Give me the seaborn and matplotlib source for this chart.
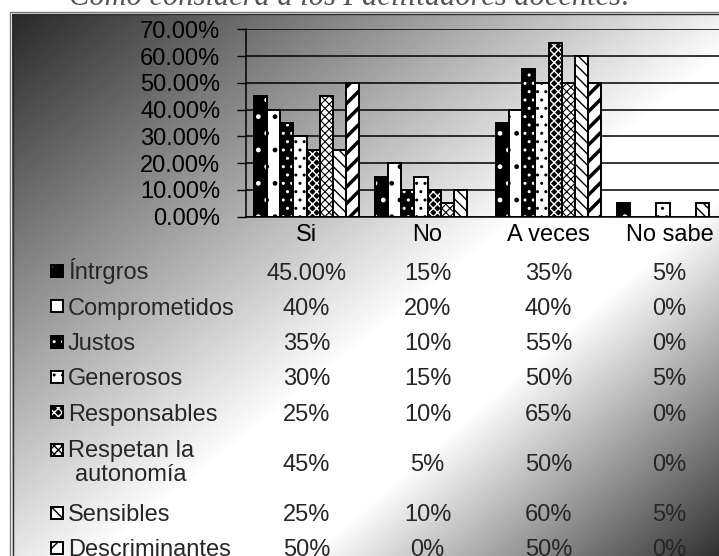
import numpy as np
import pandas as pd
import matplotlib
matplotlib.use("Agg")
import matplotlib.pyplot as plt
import seaborn as sns
from matplotlib.patches import Rectangle
from matplotlib.transforms import blended_transform_factory
from matplotlib.ticker import FuncFormatter

# ---- data ----
title = "Cómo considera a los Facilitadores docentes:"
categories = ["Si", "No", "A veces", "No sabe"]
series = ["Íntrgros", "Comprometidos", "Justos", "Generosos", "Responsables",
          "Respetan la\nautonomía", "Sensibles", "Descriminantes"]
si = [45, 40, 35, 30, 25, 45, 25, 50]
no = [15, 20, 10, 15, 10, 5, 10, 0]
a_veces = [35, 40, 55, 50, 65, 50, 60, 50]
no_sabe = [5, 0, 0, 5, 0, 0, 5, 0]
y_ticks = [0, 10, 20, 30, 40, 50, 60, 70]
two_decimal_cells = {("Íntrgros", "Si")}

# fill colour, hatch colour, hatch pattern, hatch width
styles = [
    ("black", "white", ".", 1.0),
    ("white", "black", ".", 1.0),
    ("black", "white", "..", 1.0),
    ("white", "black", "..", 1.0),
    ("black", "white", "xxxx", 1.0),
    ("white", "black", "xxxx", 0.8),
    ("white", "black", "\\\\\\", 1.0),
    ("white", "black", "//", 2.5),
]

W, H = 719, 556
sns.set_theme(style="white")
plt.rcParams["font.family"] = ["Liberation Sans", "DejaVu Sans"]
plt.rcParams["hatch.linewidth"] = 1.0
FS = 17

fig = plt.figure(figsize=(W / 100, H / 100), dpi=100)
fig.patch.set_facecolor("white")


def fx(px):
    return px / W


def fy(py):
    return 1 - py / H


# ---- framed gradient backdrop ----
bg = fig.add_axes([0, 0, 1, 1], zorder=-10)
yy, xx = np.mgrid[0:H, 0:W] + 0.5
rise = 32 + 0.28 * xx + 0.35 * yy
fall = 728 - (0.5 * xx + 0.575 * yy)
shade = np.clip(np.minimum(rise, fall), 24, 255) / 255
shade[(xx < 12.5) | (yy < 14)] = 1.0
bg.imshow(shade, cmap="gray", vmin=0, vmax=1, extent=(0, W, H, 0),
          aspect="auto", interpolation="bilinear")
bg.set_xlim(0, W)
bg.set_ylim(H, 0)
bg.axis("off")
for off_x, off_y, col in [(9.5, 11.5, "#777777"), (12.5, 14.0, "#2a2a2a")]:
    bg.plot([off_x, off_x, W + 5], [H + 5, off_y, off_y], color=col, lw=1.0,
            solid_capstyle="butt")

# ---- bar chart ----
df = pd.DataFrame({
    "categoria": np.repeat(categories, len(series)),
    "serie": series * len(categories),
    "valor": si + no + a_veces + no_sabe,
})

ax = fig.add_axes([fx(246), fy(216.7), (730 - 246) / W, (216.7 - 29.3) / H])
sns.barplot(data=df, x="categoria", y="valor", hue="serie", order=categories,
            hue_order=series, width=0.86, gap=0, ax=ax, legend=False,
            errorbar=None, saturation=1)

for cont, (fc, hc, hatch, hlw) in zip(ax.containers, styles):
    for p in cont.patches:
        p.set_facecolor(fc)
        p.set_edgecolor(hc)
        p.set_hatch(hatch)
        p.set_linewidth(0)
        if hasattr(p, "set_hatch_linewidth"):
            p.set_hatch_linewidth(hlw)
        if p.get_height() > 0:
            ax.add_patch(Rectangle(p.get_xy(), p.get_width(), p.get_height(),
                                   fill=False, ec="black", lw=1.4,
                                   zorder=p.get_zorder() + 0.1))

ax.set_ylim(0, 70)
ax.set_yticks(y_ticks)
ax.yaxis.set_major_formatter(FuncFormatter(lambda v, _: f"{v:.2f}%"))
ax.set_xlabel("")
ax.set_ylabel("")
ax.tick_params(axis="y", left=True, length=6.5, width=1.0, color="black",
               pad=12, labelsize=FS, direction="out", labelcolor="black")
ax.tick_params(axis="x", bottom=False, length=0, pad=5, labelsize=FS,
               labelcolor="black")
ax.yaxis.grid(True, color="black", lw=1.1)
ax.set_axisbelow(True)
for side in ("top", "right"):
    ax.spines[side].set_visible(False)
for side in ("left", "bottom"):
    ax.spines[side].set_color("black")
    ax.spines[side].set_linewidth(1.1)
ax.patch.set_alpha(0)

# ---- data table under the chart ----
columns = {"Si": si, "No": no, "A veces": a_veces, "No sabe": no_sabe}
trans = blended_transform_factory(ax.transData, fig.transFigure)
row_h, row_h2 = 35.3, 65.0
top = 271 - row_h / 2
for i, (name, (fc, hc, hatch, hlw)) in enumerate(zip(series, styles)):
    h = row_h2 if "\n" in name else row_h
    cy = top + h / 2
    top += h
    if "\n" in name:
        fig.text(fx(68), fy(cy + 1), name, ha="left", va="center",
                 multialignment="center", linespacing=1.12, fontsize=FS)
        my = cy - 12
    else:
        fig.text(fx(68), fy(cy + 8.5), name, ha="left", va="baseline",
                 fontsize=FS)
        my = cy
    key = Rectangle((fx(51), fy(my + 6)), 12 / W, 12 / H,
                    transform=fig.transFigure, facecolor=fc, edgecolor=hc,
                    hatch=hatch, lw=0)
    fig.add_artist(key)
    fig.add_artist(Rectangle((fx(51), fy(my + 6)), 12 / W, 12 / H,
                             transform=fig.transFigure, fill=False,
                             ec="black", lw=1.4))
    for j, cat in enumerate(categories):
        v = columns[cat][i]
        label = f"{v:.2f}%" if (series[i], cat) in two_decimal_cells else f"{v:.0f}%"
        fig.text(j, fy(cy + 8.5), label, transform=trans, ha="center",
                 va="baseline", fontsize=FS)

fig.text(fx(350), fy(5), title, ha="center", va="baseline", fontsize=22,
         style="italic", family=["Liberation Serif"], color="#555555")

fig.savefig("out.png", dpi=100)
